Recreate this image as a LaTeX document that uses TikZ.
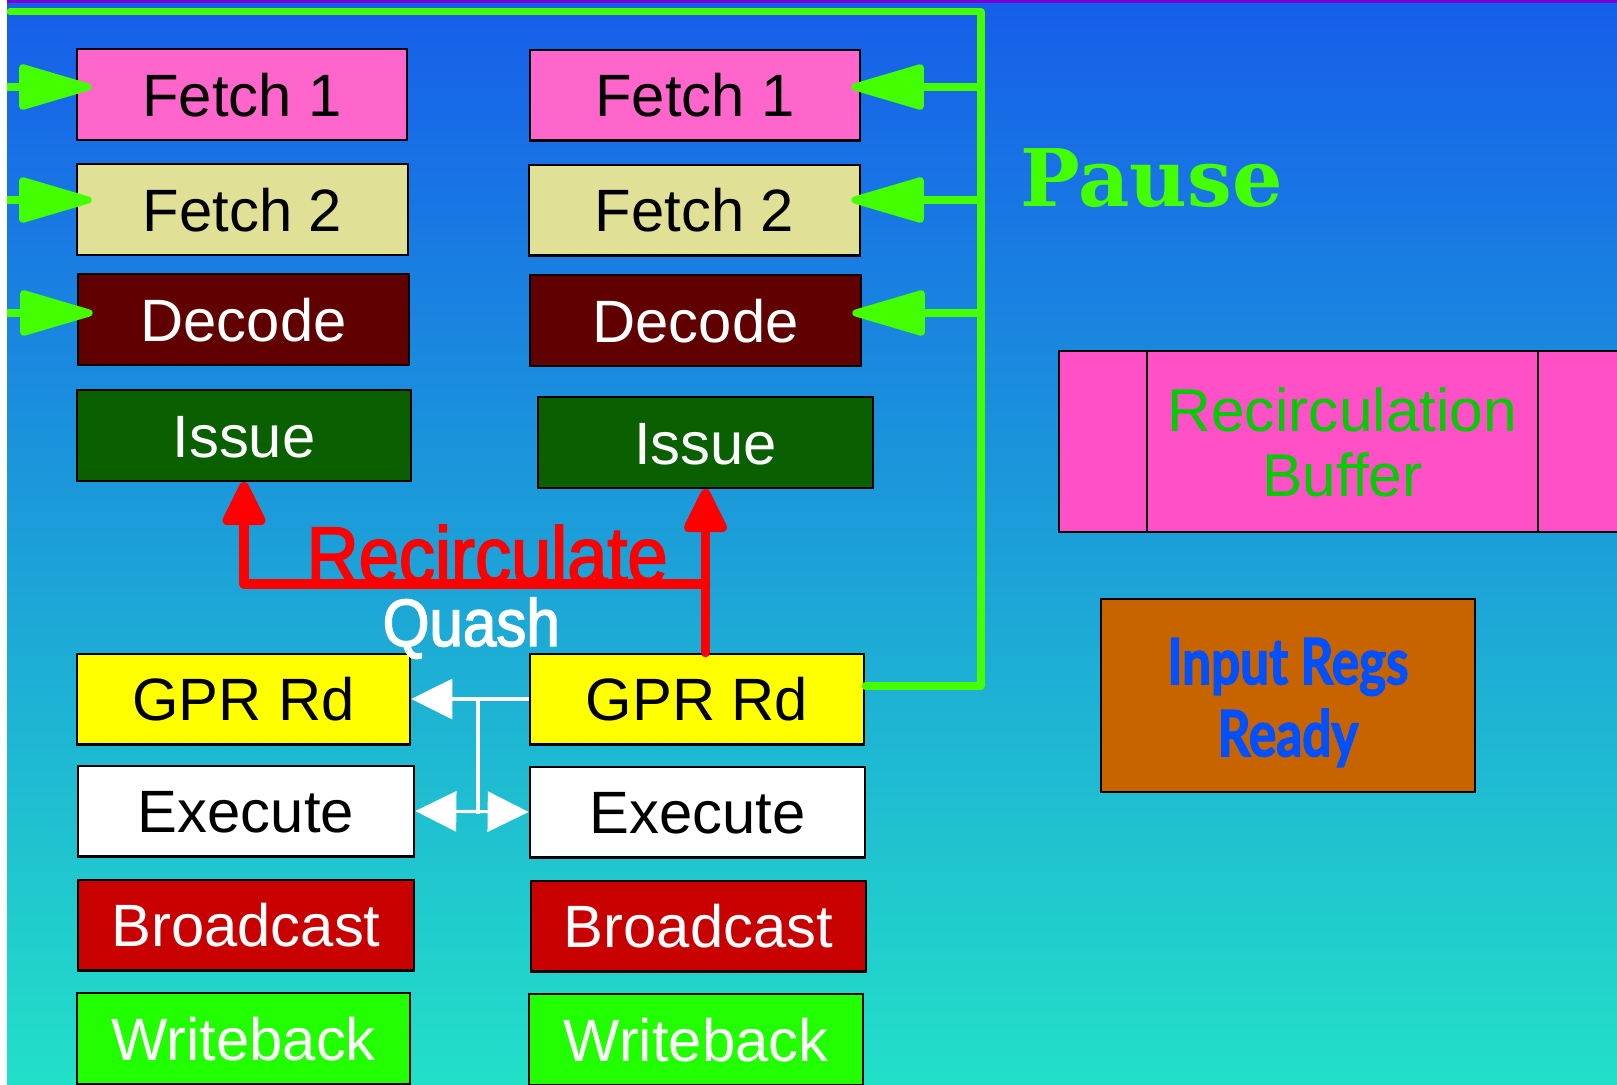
\documentclass[tikz,border=0pt]{standalone}
\usepackage{fontspec}
\setmainfont{Liberation Sans}
\newfontfamily\pausefont{DejaVu Serif}
\newfontfamily\narrowfont[FakeStretch=0.9,FakeBold=2.2]{Liberation Sans}
\newfontfamily\regsfont[FakeStretch=0.8,FakeBold=2]{Lato}
\usetikzlibrary{arrows.meta}
\definecolor{bgtop}{RGB}{22,94,234}
\definecolor{bgbot}{RGB}{34,224,200}
\definecolor{topline}{RGB}{120,0,210}
\definecolor{pausegreen}{RGB}{68,255,0}
\definecolor{fetchone}{RGB}{255,102,204}
\definecolor{fetchtwo}{RGB}{224,224,150}
\definecolor{decodec}{RGB}{96,0,0}
\definecolor{issuec}{RGB}{10,96,0}
\definecolor{gprc}{RGB}{255,255,0}
\definecolor{bcastc}{RGB}{200,0,0}
\definecolor{wbackc}{RGB}{34,255,0}
\definecolor{bufpink}{RGB}{255,80,200}
\definecolor{buftext}{RGB}{0,204,0}
\definecolor{regsbox}{RGB}{200,100,0}
\definecolor{regstext}{RGB}{0,80,255}
\definecolor{recred}{RGB}{255,0,0}
\tikzset{quashtip/.tip={Triangle[length=4.1mm,width=4.0mm]}}
\begin{document}
\begin{tikzpicture}[x=0.01cm,y=-0.01cm,
  stage/.style={draw=black, line width=0.7pt, inner sep=0pt, minimum height=0.905cm,
     font=\fontsize{17}{20}\selectfont, text height=12.4pt, text depth=0pt},
  bufcell/.style={draw=black, line width=0.7pt, fill=bufpink, inner sep=0pt, minimum height=1.81cm},
  pausewire/.style={draw=pausegreen, line width=2pt, line cap=round, line join=round},
  pausetip/.style={-{Triangle[length=8.2mm,width=4.6mm,round]}},
  recirc/.style={draw=recred, line width=2.8pt, line cap=round, line join=round,
     -{Triangle[length=5.0mm,width=4.6mm,round]}},
  quashwire/.style={draw=white, line width=0.9pt},
]
% page and background
\useasboundingbox (0,0) rectangle (1617,1084);
\fill[white] (0,0) rectangle (1617,1084);
\shade[top color=bgtop, bottom color=bgbot] (7,0) rectangle (1617,1084);
\fill[topline] (7,0) rectangle (1617,3);

% first pipeline
\node[stage, fill=fetchone, minimum width=3.30cm] (f1L) at (242,94.5) {Fetch 1};
\node[stage, fill=fetchtwo, minimum width=3.31cm] (f2L) at (242.5,209.5) {Fetch 2};
\node[stage, fill=decodec, text=white, minimum width=3.31cm] (dL) at (243.5,319.5) {Decode};
\node[stage, fill=issuec, text=white, minimum width=3.34cm] (iL) at (244,435.5) {Issue};
\node[stage, fill=gprc, minimum width=3.33cm] (gL) at (243.5,699) {GPR Rd};
\node[stage, fill=white, minimum width=3.36cm] (eL) at (246,811) {Execute};
\node[stage, fill=bcastc, text=white, minimum width=3.36cm] (bL) at (246,925) {Broadcast};
\node[stage, fill=wbackc, text=white, minimum width=3.33cm] (wL) at (243.5,1038.5) {Writeback};

% second pipeline
\node[stage, fill=fetchone, minimum width=3.30cm] (f1R) at (695,95) {Fetch 1};
\node[stage, fill=fetchtwo, minimum width=3.31cm] (f2R) at (694.5,210) {Fetch 2};
\node[stage, fill=decodec, text=white, minimum width=3.31cm] (dR) at (695.5,320.5) {Decode};
\node[stage, fill=issuec, text=white, minimum width=3.35cm] (iR) at (705.5,442.5) {Issue};
\node[stage, fill=gprc, minimum width=3.34cm] (gR) at (697,699) {GPR Rd};
\node[stage, fill=white, minimum width=3.35cm] (eR) at (697.5,812) {Execute};
\node[stage, fill=bcastc, text=white, minimum width=3.35cm] (bR) at (698.5,926) {Broadcast};
\node[stage, fill=wbackc, text=white, minimum width=3.34cm] (wR) at (696,1039.5) {Writeback};

% recirculation buffer
\node[bufcell, minimum width=0.88cm] (rbL) at (1103,441.5) {};
\node[bufcell, minimum width=3.91cm] (rbM) at (1342.5,441.5) {};
\node[bufcell, minimum width=1.62cm] (rbR) at (1619,441.5) {};
\node[align=center, text=buftext, inner sep=0pt, font=\fontsize{17.2}{18.4}\selectfont]
      (rbTxt) at ([yshift=-0.1mm]rbM.center) {Recirculation\\Buffer};

% operand readiness
\node[draw=black, line width=0.7pt, fill=regsbox, minimum width=3.74cm, minimum height=1.93cm]
      (regs) at (1288,695.5) {};
\node[align=center, text=regstext, font=\regsfont\bfseries\fontsize{18.2}{20.5}\selectfont]
      (regsTxt) at ([yshift=-0.7mm]regs.center) {Input Regs\\Ready};

% labels
\node[anchor=base west, inner sep=0pt, text=pausegreen,
      font=\pausefont\bfseries\fontsize{22.6}{26}\selectfont] (pause) at (1020,206) {Pause};
\node[anchor=base west, inner sep=0pt, text=recred, text depth=0pt,
      font=\narrowfont\fontsize{22.8}{26}\selectfont] (recLbl) at (306,583) {Recirculate};
\node[anchor=base west, inner sep=0pt, text=white, text depth=0pt,
      font=\narrowfont\fontsize{19}{22}\selectfont] (quash) at (382,646) {Quash};

% pause wiring
\coordinate (wireL) at (10,11.7);
\coordinate (wireC) at (981,11.7);
\coordinate (wireB) at (981,686);
\coordinate (tapA) at (981,87);
\coordinate (tapB) at (981,200);
\coordinate (tapC) at (981,313);
\coordinate (inA) at (7,87);
\coordinate (inB) at (7,200);
\coordinate (inC) at (7,313);
\draw[pausewire] (gR.east |- wireB) -- (wireB) -- (wireC) -- (wireL);
\draw[pausewire, pausetip, shorten >=-1.0mm] (tapA) -- (f1R.east |- tapA);
\draw[pausewire, pausetip, shorten >=-1.0mm] (tapB) -- (f2R.east |- tapB);
\draw[pausewire, pausetip, shorten >=-1.0mm] (tapC) -- (dR.east |- tapC);
\draw[pausewire, pausetip, shorten >=-1.6mm] (inA) -- (f1L.west |- inA);
\draw[pausewire, pausetip, shorten >=-1.6mm] (inB) -- (f2L.west |- inB);
\draw[pausewire, pausetip, shorten >=-1.6mm] (inC) -- (dL.west |- inC);

% recirculate paths
\coordinate (recY) at (0,584);
\draw[recirc] (iR.south |- gR.north) -- (iR.south);
\draw[recirc] (iR.south |- recY) -| (iL.south);

% quash paths
\coordinate (quashX) at (478,0);
\draw[quashwire, -{quashtip}] (gR.west) -- (gL.east);
\draw[quashwire] (quashX |- gL.east) -- ([yshift=-0.3mm]quashX |- eL.east);
\draw[quashwire, {quashtip}-{quashtip}] (eL.east) -- (eR.west);

% left margin
\fill[white] (0,0) rectangle (7,1084);
\end{tikzpicture}
\end{document}
